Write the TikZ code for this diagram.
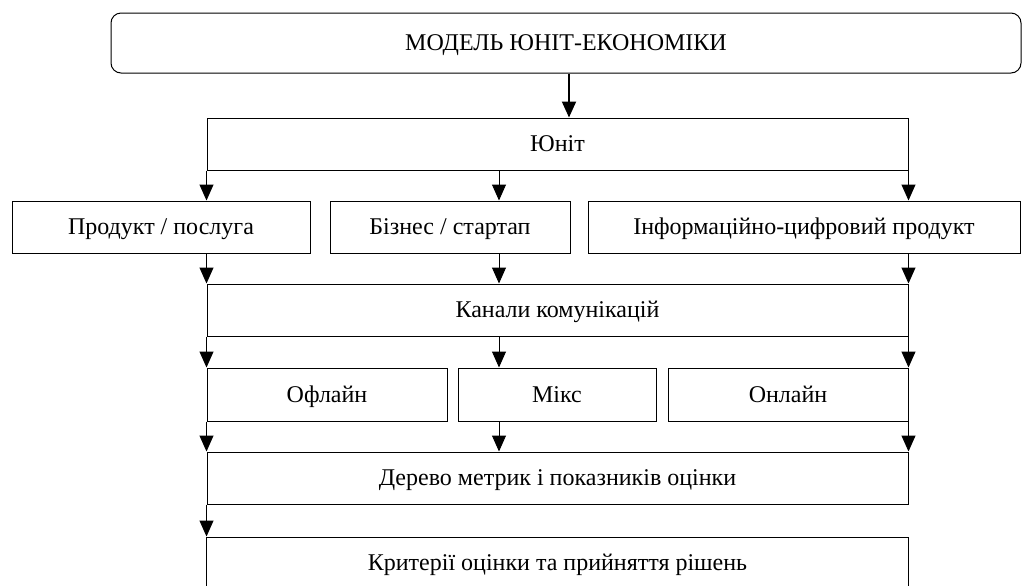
\documentclass[tikz,border=0pt]{standalone}
\usepackage{fontspec}
\setmainfont{Liberation Serif}
\usepackage{tikz}
\usetikzlibrary{arrows.meta}

\begin{document}
\begin{tikzpicture}[
    x=1pt, y=-1pt,
    box/.style={rectangle, draw, line width=0.5pt, inner sep=0pt, minimum height=26pt, text height=7.9pt, text depth=0pt, align=center, font=\fontsize{12}{14}\selectfont},
    topbox/.style={box, rounded corners=5pt, minimum height=30pt},
    arrow/.style={-{Triangle[width=7pt, length=8pt]}, line width=0.5pt},
    bigarrow/.style={arrow, line width=1pt}
]
\useasboundingbox (0,0) rectangle (514.5,292.5);

\node[topbox, minimum width=455pt] (model) at (283,21.5) {МОДЕЛЬ ЮНІТ-ЕКОНОМІКИ};
\node[box, minimum width=350.5pt] (unit) at (278.75,72) {Юніт};

\node[box, minimum width=149pt] (prod) at (80.5,113.5) {Продукт / послуга};
\node[box, minimum width=120pt] (biz)  at (225,113.5)  {Бізнес / стартап};
\node[box, minimum width=216pt] (info) at (402,113.5)  {Інформаційно-цифровий продукт};

\node[box, minimum width=350.5pt] (chan) at (278.75,155) {Канали комунікацій};

\node[box, minimum width=120pt, minimum height=26.5pt] (off) at (163.5,197.25) {Офлайн};
\node[box, minimum width=99pt, minimum height=26.5pt]  (mix) at (278.5,197.25) {Мікс};
\node[box, minimum width=120pt, minimum height=26.5pt] (on)  at (394,197.25)   {Онлайн};

\node[box, minimum width=350.5pt] (tree) at (278.75,239)   {Дерево метрик і показників оцінки};
\node[box, minimum width=351pt]   (crit) at (278.75,281.5) {Критерії оцінки та прийняття рішень};

\coordinate (midcol) at (249.5,0);

% model -> unit
\draw[bigarrow] (model.south -| 284.5,0) -- (unit.north -| 284.5,0);

% unit -> second row
\draw[arrow] (unit.south west) -- (unit.south west |- prod.north);
\draw[arrow] (unit.south -| midcol) -- (biz.north -| midcol);
\draw[arrow] (unit.south east) -- (unit.south east |- info.north);

% second row -> channels
\draw[arrow] (prod.south -| chan.north west) -- (chan.north west);
\draw[arrow] (biz.south -| midcol) -- (chan.north -| midcol);
\draw[arrow] (info.south -| chan.north east) -- (chan.north east);

% channels -> third row
\draw[arrow] (chan.south west) -- (chan.south west |- off.north);
\draw[arrow] (chan.south -| midcol) -- (mix.north -| midcol);
\draw[arrow] (chan.south east) -- (chan.south east |- on.north);

% third row -> tree
\draw[arrow] (off.south west) -- (off.south west |- tree.north);
\draw[arrow] (mix.south -| midcol) -- (tree.north -| midcol);
\draw[arrow] (on.south -| tree.north east) -- (tree.north east);

% tree -> criteria
\draw[arrow] (tree.south west) -- (tree.south west |- crit.north);
\end{tikzpicture}
\end{document}
